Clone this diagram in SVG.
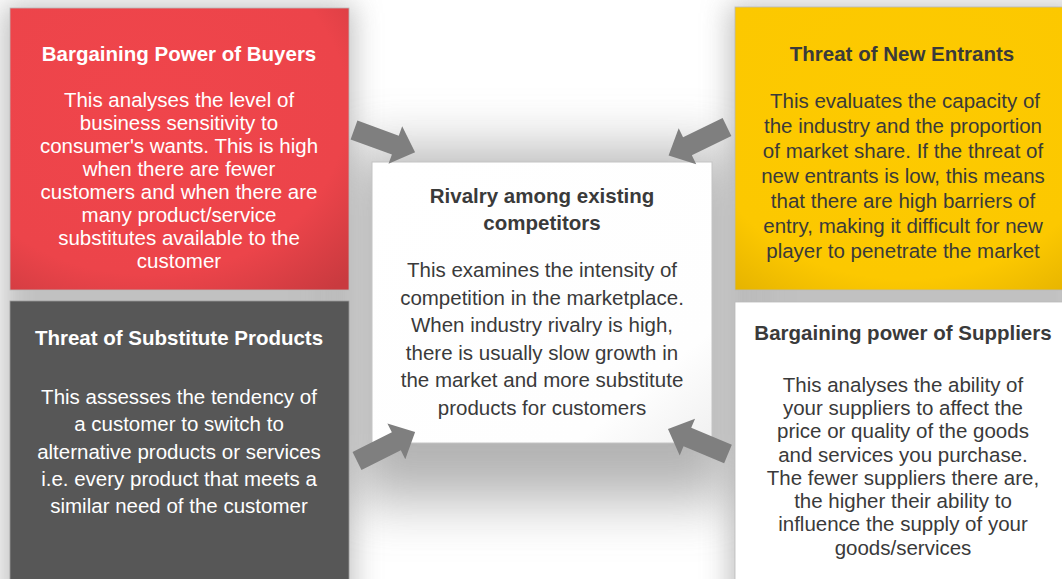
<svg xmlns="http://www.w3.org/2000/svg" width="1062" height="579" viewBox="0 0 1062 579">
  <style>
    .title { font-family: "Liberation Sans", Arial, sans-serif; font-size: 20.5px; font-weight: bold; text-anchor: middle; }
    .body { font-family: "Liberation Sans", Arial, sans-serif; font-size: 20.5px; text-anchor: middle; }
    .light { fill: #ffffff; }
    .dark { fill: #3a3a3a; }
    .arrow { fill: #7f7f7f; }
  </style>
  <defs>
    <filter id="soft" x="-50%" y="-50%" width="200%" height="200%">
      <feGaussianBlur stdDeviation="14"/>
    </filter>
    <filter id="softWide" x="-50%" y="-50%" width="200%" height="200%">
      <feGaussianBlur stdDeviation="28"/>
    </filter>
    <radialGradient id="redFill" cx="0.4" cy="0.35" r="0.85">
      <stop offset="0" stop-color="#f0454b"/>
      <stop offset="0.7" stop-color="#ec444a"/>
      <stop offset="1" stop-color="#c93a3f"/>
    </radialGradient>
    <radialGradient id="yellowFill" cx="0.5" cy="0.35" r="0.85">
      <stop offset="0" stop-color="#fdca00"/>
      <stop offset="0.72" stop-color="#fcc800"/>
      <stop offset="1" stop-color="#e2b000"/>
    </radialGradient>
    <linearGradient id="centreFill" x1="0" y1="0" x2="1" y2="1">
      <stop offset="0" stop-color="#ffffff"/>
      <stop offset="0.8" stop-color="#fefefe"/>
      <stop offset="1" stop-color="#f0f0f0"/>
    </linearGradient>
    <path id="blockArrow" d="M0,-10 L44,-10 L44,-20 L65,0 L44,20 L44,10 L0,10 Z"/>
  </defs>

  <!-- page and soft shadows -->
  <rect width="1062" height="579" fill="#ffffff"/>
  <g id="shadows">
    <rect x="2" y="4" width="352" height="620" fill="#a8a8a8" opacity="0.7" filter="url(#soft)"/>
    <rect x="729" y="4" width="360" height="620" fill="#a8a8a8" opacity="0.7" filter="url(#soft)"/>
    <rect x="350" y="150" width="385" height="350" fill="#9a9a9a" opacity="0.75" filter="url(#softWide)"/>
  </g>

  <!-- outer forces -->
  <g id="buyers">
    <rect x="10" y="8" width="339" height="282" fill="url(#redFill)" stroke="#b9b9b9" stroke-width="0.8"/>
    <text class="title light" x="179" y="61">Bargaining Power of Buyers</text>
    <text class="body light" x="179" y="107">This analyses the level of</text>
    <text class="body light" x="179" y="130">business sensitivity to</text>
    <text class="body light" x="179" y="153">consumer's wants. This is high</text>
    <text class="body light" x="179" y="176">when there are fewer</text>
    <text class="body light" x="179" y="199">customers and when there are</text>
    <text class="body light" x="179" y="222">many product/service</text>
    <text class="body light" x="179" y="245">substitutes available to the</text>
    <text class="body light" x="179" y="268">customer</text>
  </g>

  <g id="new-entrants">
    <rect x="735" y="7" width="340" height="283" fill="url(#yellowFill)" stroke="#b9b9b9" stroke-width="0.8"/>
    <text class="title dark" x="902" y="61">Threat of New Entrants</text>
    <text class="body dark" x="905" y="108">This evaluates the capacity of</text>
    <text class="body dark" x="903" y="133">the industry and the proportion</text>
    <text class="body dark" x="903" y="158">of market share. If the threat of</text>
    <text class="body dark" x="903" y="183">new entrants is low, this means</text>
    <text class="body dark" x="903" y="208">that there are high barriers of</text>
    <text class="body dark" x="903" y="233">entry, making it difficult for new</text>
    <text class="body dark" x="903" y="258">player to penetrate the market</text>
  </g>

  <g id="substitutes">
    <rect x="10" y="301" width="339" height="290" fill="#575757" stroke="#9a9a9a" stroke-width="0.8"/>
    <text class="title light" x="179" y="345">Threat of Substitute Products</text>
    <text class="body light" x="179" y="404">This assesses the tendency of</text>
    <text class="body light" x="179" y="431">a customer to switch to</text>
    <text class="body light" x="179" y="458.5">alternative products or services</text>
    <text class="body light" x="179" y="486">i.e. every product that meets a</text>
    <text class="body light" x="179" y="513">similar need of the customer</text>
  </g>

  <g id="suppliers">
    <rect x="735" y="302" width="340" height="290" fill="#ffffff" stroke="#b9b9b9" stroke-width="0.8"/>
    <text class="title dark" x="903" y="340">Bargaining power of Suppliers</text>
    <text class="body dark" x="903" y="392">This analyses the ability of</text>
    <text class="body dark" x="903" y="415">your suppliers to affect the</text>
    <text class="body dark" x="903" y="438">price or quality of the goods</text>
    <text class="body dark" x="903" y="462">and services you purchase.</text>
    <text class="body dark" x="903" y="485">The fewer suppliers there are,</text>
    <text class="body dark" x="903" y="508">the higher their ability to</text>
    <text class="body dark" x="903" y="531">influence the supply of your</text>
    <text class="body dark" x="903" y="555">goods/services</text>
  </g>

  <!-- central force -->
  <g id="rivalry">
    <rect x="372" y="162" width="340" height="281" fill="url(#centreFill)" stroke="#c4c4c4" stroke-width="1"/>
    <text class="title dark" x="542" y="203">Rivalry among existing</text>
    <text class="title dark" x="542" y="230">competitors</text>
    <text class="body dark" x="542" y="277">This examines the intensity of</text>
    <text class="body dark" x="542" y="304.5">competition in the marketplace.</text>
    <text class="body dark" x="542" y="332">When industry rivalry is high,</text>
    <text class="body dark" x="542" y="359.5">there is usually slow growth in</text>
    <text class="body dark" x="542" y="387">the market and more substitute</text>
    <text class="body dark" x="542" y="414.5">products for customers</text>
  </g>

  <!-- block arrows pointing at the centre -->
  <g id="connectors">
    <use href="#blockArrow" class="arrow" transform="translate(354,130) rotate(20)"/>
    <use href="#blockArrow" class="arrow" transform="translate(727,127) rotate(154)"/>
    <use href="#blockArrow" class="arrow" transform="translate(357,461) rotate(-26.6)"/>
    <use href="#blockArrow" class="arrow" transform="translate(728,454) rotate(202.6)"/>
  </g>
</svg>
